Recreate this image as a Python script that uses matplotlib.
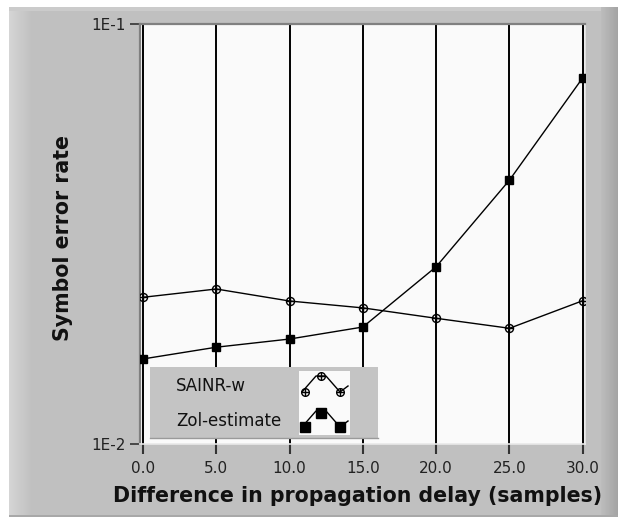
import numpy as np
import matplotlib
matplotlib.use("Agg")
import matplotlib.pyplot as plt
from matplotlib.patches import Rectangle
from matplotlib.colors import LinearSegmentedColormap

# ---- data ----
delay = [0, 5, 10, 15, 20, 25, 30]
sainr_w = [0.02235, 0.02339, 0.02190, 0.02109, 0.01992, 0.01886, 0.02194]
zol_estimate = [0.01594, 0.01700, 0.01778, 0.01899, 0.02643, 0.0425, 0.0745]
xticks = [0, 5, 10, 15, 20, 25, 30]
xtick_labels = ["0.0", "5.0", "10.0", "15.0", "20.0", "25.0", "30.0"]
yticks = [0.01, 0.1]
ytick_labels = ["1E-2", "1E-1"]
series_names = ["SAINR-w", "Zol-estimate"]

W, H = 618, 519
fig = plt.figure(figsize=(W / 100, H / 100), dpi=100)
fig.patch.set_facecolor("white")

# background panel (figure pixel coords via a full-figure axes)
bg = fig.add_axes([0, 0, 1, 1])
bg.axis("off")
bg.add_patch(Rectangle((9, 7), W - 9, 510, color="#c0c0c0", lw=0))
grad = np.linspace(0, 1, 64)[None, :]
bg.imshow(grad, extent=(9, 32, 517, 7),
          cmap=LinearSegmentedColormap.from_list("l", ["#d6d6d6", "#c0c0c0"]),
          aspect="auto", zorder=1)
bg.add_patch(Rectangle((9, 7), W - 9, 4, color="#cbcbcb", lw=0, zorder=1))
bg.imshow(grad, extent=(601, W, 517, 7),
          cmap=LinearSegmentedColormap.from_list("r", ["#bdbdbd", "#a4a4a4"]),
          aspect="auto", zorder=1)
bg.add_patch(Rectangle((9, 515), W - 9, 2, color="#a8a8a8", lw=0, zorder=2))
bg.set_xlim(0, W)
bg.set_ylim(H, 0)

# ---- main axes ----
L, R, T, B = 140, 585, 24, 444
ax = fig.add_axes([L / W, 1 - B / H, (R - L) / W, (B - T) / H])
ax.set_facecolor("#fafafa")
ax.set_yscale("log")
ax.set_xlim(-0.2, 30.15)
ax.set_ylim(0.01, 0.1)

for xv in xticks:
    ax.axvline(xv, color="black", lw=1.4, zorder=1)

ms = 5.8
ax.plot(delay, sainr_w, color="black", lw=1.0, marker="o", ms=ms, mfc="none",
        mec="black", mew=1.0, zorder=3)
ax.plot(delay, sainr_w, ls="none", marker="+", ms=ms, mec="black", mew=1.0, zorder=3)
ax.plot(delay, zol_estimate, color="black", lw=1.0, marker="s", ms=ms, mfc="black",
        mec="black", zorder=3)

ax.set_xticks(xticks)
ax.set_xticklabels(xtick_labels, fontsize=11, color="#222222")
ax.set_yticks(yticks)
ax.set_yticklabels(ytick_labels, fontsize=11, color="#222222")
ax.yaxis.set_minor_locator(matplotlib.ticker.NullLocator())
ax.tick_params(axis="x", direction="out", length=7, width=1.5, color="#333333", pad=5)
ax.tick_params(axis="y", direction="out", length=7, width=1.2, color="#333333", pad=3)

for s in ("top", "left"):
    ax.spines[s].set_color("#808080")
    ax.spines[s].set_linewidth(1.6)
for s in ("bottom", "right"):
    ax.spines[s].set_color("#e8e8e8")
    ax.spines[s].set_linewidth(1.2)

ax.set_xlabel("Difference in propagation delay (samples)", fontsize=14.8,
              fontweight="bold", color="#111111")
ax.xaxis.set_label_coords((358 - L) / (R - L), (B - 486) / (B - T))
ax.set_ylabel("Symbol error rate", fontsize=14.8, fontweight="bold",
              color="#111111")
ax.yaxis.set_label_coords((73 - L) / (R - L), (B - 238) / (B - T))

# ---- legend (custom box in figure pixel coords) ----
lg = fig.add_axes([0, 0, 1, 1], zorder=5)
lg.axis("off")
lg.add_patch(Rectangle((150, 367), 228, 71, color="#c4c4c4", lw=0))
lg.imshow(grad, extent=(150, 175, 438, 367),
          cmap=LinearSegmentedColormap.from_list("ll", ["#d2d2d2", "#c4c4c4"]),
          aspect="auto")
lg.imshow(grad, extent=(350, 378, 438, 367),
          cmap=LinearSegmentedColormap.from_list("lr", ["#dcdcdc", "#b4b4b4", "#8a8a8a"]),
          aspect="auto")
lg.plot([150, 378], [438, 438], color="#9a9a9a", lw=1)
lg.add_patch(Rectangle((299, 371), 51, 64, color="#fafafa", lw=0))
lg.set_xlim(0, W)
lg.set_ylim(H, 0)

# legend glyph: bump-shaped sample line with three markers
glyph_x = np.array([302, 316, 326, 340, 348])
glyph_dy = np.array([0, -16, -16, 0, -6])
marker_x = np.array([305, 321, 340])
marker_dy = np.array([0, -16, 0])
for i, (name, yc, base) in enumerate(zip(series_names, [386, 421], [392, 427])):
    lg.text(176, yc, name, fontsize=12, color="#111111", va="center", ha="left")
    lg.plot(glyph_x, base + glyph_dy, color="black", lw=1.0)
    if i == 0:
        lg.plot(marker_x, base + marker_dy, ls="none", marker="o", ms=5.5,
                mfc="none", mec="black", mew=1.0)
        lg.plot(marker_x, base + marker_dy, ls="none", marker="+", ms=5.5,
                mec="black", mew=1.0)
    else:
        lg.plot(marker_x, base + marker_dy + np.array([0, 2, 0]), ls="none",
                marker="s", ms=6.5, mfc="black", mec="black")

fig.savefig("out.png", dpi=100)
